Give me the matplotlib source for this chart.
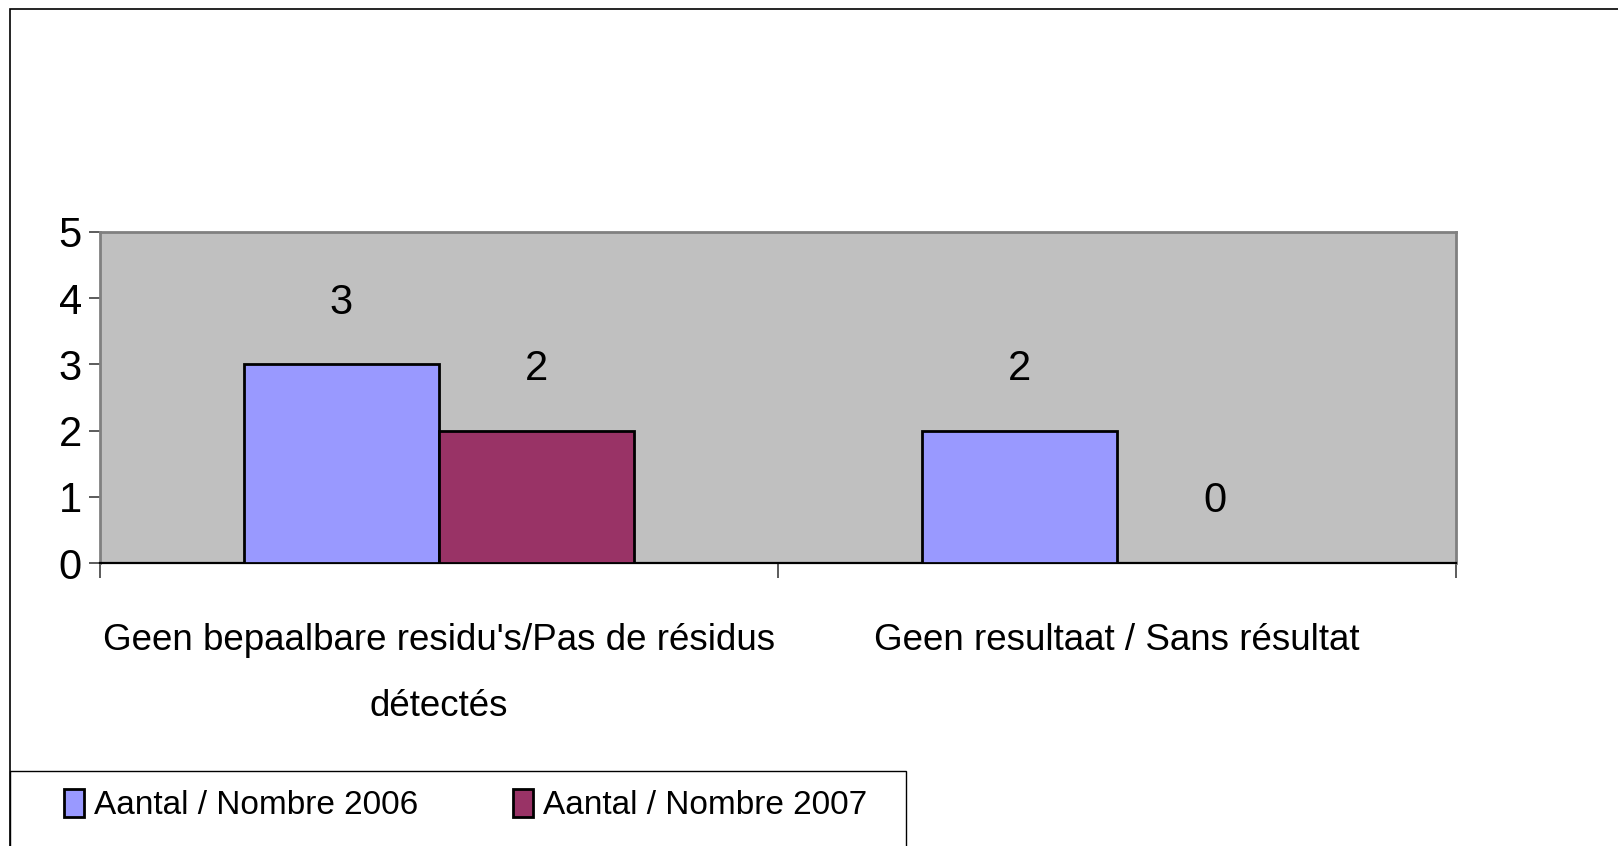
import matplotlib
matplotlib.use("Agg")
import matplotlib.pyplot as plt
from matplotlib.patches import Rectangle
import numpy as np

# Daten
kategorien = ["Geen bepaalbare residu's/Pas de résidus\ndétectés",
              "Geen resultaat / Sans résultat"]
werte_2006 = [3, 2]
werte_2007 = [2, 0]
serien = ["Aantal / Nombre 2006", "Aantal / Nombre 2007"]
y_ticks = [0, 1, 2, 3, 4, 5]

farbe_2006 = "#9999FF"
farbe_2007 = "#993366"

plt.rcParams["font.family"] = ["Liberation Sans", "DejaVu Sans"]

fig = plt.figure(figsize=(16.18, 8.46), dpi=100)
ax = fig.add_axes([100 / 1618, 1 - 563 / 846, (1456 - 100) / 1618, (563 - 232) / 846])
ax.set_facecolor("#C0C0C0")

x = np.arange(len(kategorien))
breite = 0.288
b1 = ax.bar(x - breite / 2, werte_2006, breite, color=farbe_2006,
            edgecolor="black", linewidth=2.0, label=serien[0], zorder=3)
b2 = ax.bar(x + breite / 2, werte_2007, breite, color=farbe_2007,
            edgecolor="black", linewidth=2.0, label=serien[1], zorder=3)

# Werte ueber den Balken
for bars, werte in ((b1, werte_2006), (b2, werte_2007)):
    for rect, v in zip(bars, werte):
        ax.annotate(str(v), (rect.get_x() + rect.get_width() / 2, v),
                    xytext=(0, 44.5), textcoords="offset points",
                    ha="center", va="center", fontsize=30)

ax.set_xlim(-0.5, len(kategorien) - 0.5)
ax.set_ylim(0, 5)
ax.set_yticks(y_ticks)
ax.tick_params(axis="y", labelsize=30, length=8, width=1.2, color="#404040", pad=5)

# Kategorie-Grenzen als Ticks, Beschriftung in der Mitte
ax.set_xticks(np.arange(len(kategorien) + 1) - 0.5)
ax.set_xticklabels([])
ax.tick_params(axis="x", which="major", length=11, width=1.2, color="#404040")
ax.set_xticks(x, minor=True)
ax.set_xticklabels(kategorien, minor=True)
ax.tick_params(axis="x", which="minor", length=0, pad=43)
for t in ax.get_xticklabels(minor=True):
    t.set_fontsize(26.5)
    t.set_linespacing(2.15)

for s in ["top", "right", "left"]:
    ax.spines[s].set_color("#808080")
    ax.spines[s].set_linewidth(2)
ax.spines["bottom"].set_color("black")
ax.spines["bottom"].set_linewidth(1.6)

# Rahmen um die Grafik
fig.patches.append(Rectangle((10 / 1618, -0.1), 1.2, 1.1 - 9 / 846,
                             transform=fig.transFigure, fill=False,
                             edgecolor="black", linewidth=1.2))
# Legendenrahmen
fig.patches.append(Rectangle((10 / 1618, -0.1), (906 - 10) / 1618, 0.1 + 1 - 771 / 846,
                             transform=fig.transFigure, fill=False,
                             edgecolor="black", linewidth=1.0))

leg = fig.legend(handles=[b1, b2], labels=serien, ncol=2,
                 loc="center left", bbox_to_anchor=(64 / 1618, 1 - 805 / 846),
                 frameon=False, borderpad=0, borderaxespad=0,
                 handlelength=0.6, handleheight=0.94, handletextpad=0.3,
                 columnspacing=2.85, prop={"size": 24})

fig.savefig("out.png", dpi=100)
